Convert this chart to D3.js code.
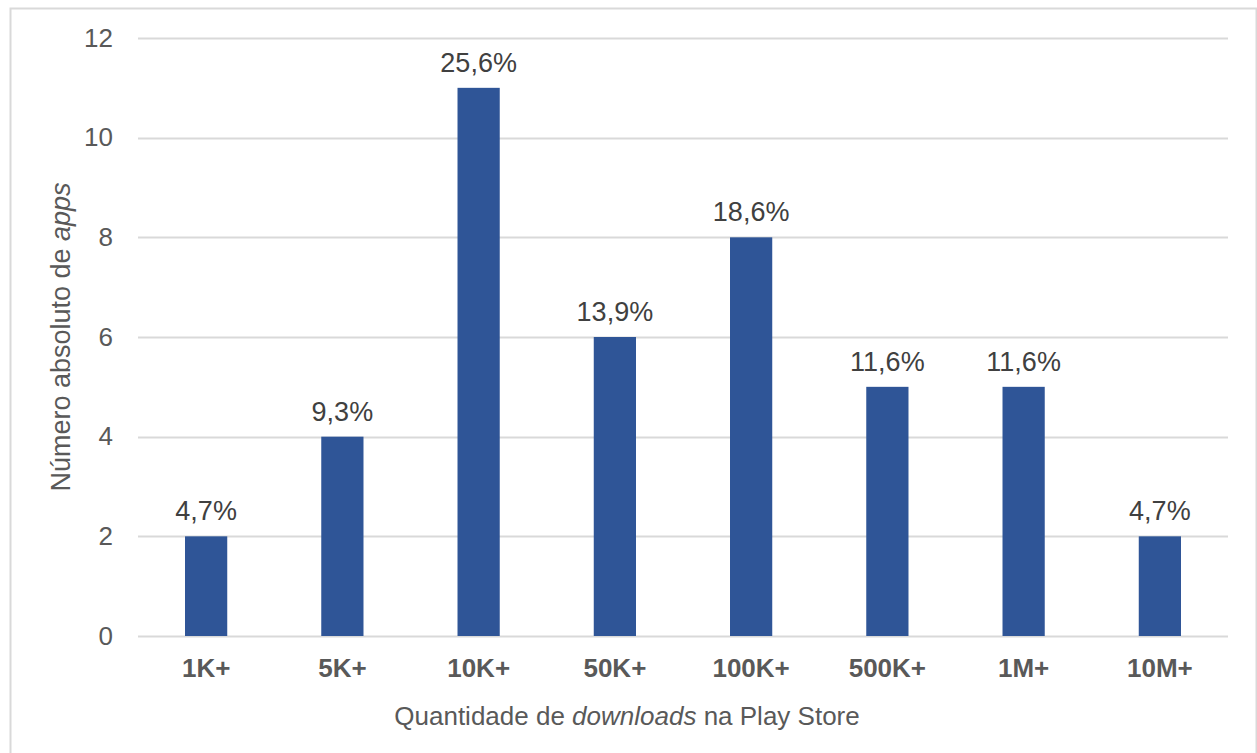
<!DOCTYPE html>
<html>
<head>
<meta charset="utf-8">
<script src="https://cdn.jsdelivr.net/npm/d3@7"></script>
<style>
  body { margin: 0; background: #fff; }
  svg { display: block; font-family: "Liberation Sans", Arial, sans-serif; }
</style>
</head>
<body>
<div class="container"></div>
<script>
var categories = ["1K+", "5K+", "10K+", "50K+", "100K+", "500K+", "1M+", "10M+"];
var counts = [2, 4, 11, 6, 8, 5, 5, 2];
var percentLabels = ["4,7%", "9,3%", "25,6%", "13,9%", "18,6%", "11,6%", "11,6%", "4,7%"];
var yTicks = [0, 2, 4, 6, 8, 10, 12];

var W = 1257, H = 753;
var margin = { top: 38, right: 29, bottom: 117, left: 138 }
    , width = W - margin.left - margin.right
    , height = H - margin.top - margin.bottom;

var root = d3.select(".container").append("svg")
    .attr("width", W)
    .attr("height", H);

// chart border
root.append("rect")
    .attr("x", 10.5).attr("y", 8.5)
    .attr("width", 1246).attr("height", 760)
    .attr("fill", "none")
    .attr("stroke", "#d9d9d9")
    .attr("stroke-width", 2);

var svg = root.append("g")
    .attr("transform", "translate(" + margin.left + "," + margin.top + ")");

var x = d3.scaleBand()
    .domain(categories)
    .range([0, width])
    .paddingInner(0.69)
    .paddingOuter(0.345);

var y = d3.scaleLinear()
    .domain([0, 12])
    .range([height, 0]);

// gridlines
svg.append("g")
    .selectAll("line")
    .data(yTicks)
    .enter()
    .append("line")
    .attr("x1", 0)
    .attr("x2", width)
    .attr("y1", function (d) { return Math.round(y(d)) + 0.5; })
    .attr("y2", function (d) { return Math.round(y(d)) + 0.5; })
    .attr("stroke", "#d9d9d9")
    .attr("stroke-width", 2);

// y axis labels
var yAxis = svg.append("g")
    .attr("class", "y-axis")
    .attr("transform", "translate(-25,0)")
    .call(d3.axisLeft(y).tickValues(yTicks).tickSize(0).tickPadding(0));
yAxis.select(".domain").remove();
yAxis.selectAll("text")
    .attr("fill", "#595959")
    .attr("font-size", 26)
    .attr("font-family", "Liberation Sans, Arial, sans-serif");

// bars
svg.append("g")
    .selectAll("rect")
    .data(counts)
    .enter()
    .append("rect")
    .attr("x", function (d, i) { return x(categories[i]); })
    .attr("width", x.bandwidth())
    .attr("y", function (d) { return y(d); })
    .attr("height", function (d) { return height - y(d); })
    .attr("fill", "#2f5597");

// data labels
svg.append("g")
    .selectAll("text")
    .data(counts)
    .enter()
    .append("text")
    .attr("x", function (d, i) { return x(categories[i]) + x.bandwidth() / 2; })
    .attr("y", function (d) { return y(d) - 16; })
    .attr("text-anchor", "middle")
    .attr("font-size", 27)
    .attr("fill", "#404040")
    .text(function (d, i) { return percentLabels[i]; });

// x axis labels
var xAxis = svg.append("g")
    .attr("class", "x-axis")
    .attr("transform", "translate(0," + height + ")")
    .call(d3.axisBottom(x).tickSize(0).tickPadding(23));
xAxis.select(".domain").remove();
xAxis.selectAll("text")
    .attr("fill", "#595959")
    .attr("font-size", 26)
    .attr("font-weight", "bold")
    .attr("font-family", "Liberation Sans, Arial, sans-serif");

// axis titles
var xTitle = root.append("text")
    .attr("x", 627)
    .attr("y", 725)
    .attr("text-anchor", "middle")
    .attr("font-size", 26)
    .attr("fill", "#595959");
xTitle.append("tspan").text("Quantidade de ");
xTitle.append("tspan").attr("font-style", "italic").text("downloads");
xTitle.append("tspan").text(" na Play Store");

var yTitle = root.append("text")
    .attr("transform", "translate(70," + (margin.top + height / 2) + ") rotate(-90)")
    .attr("text-anchor", "middle")
    .attr("font-size", 27)
    .attr("fill", "#595959");
yTitle.append("tspan").text("Número absoluto de ");
yTitle.append("tspan").attr("font-style", "italic").text("apps");
</script>
</body>
</html>
